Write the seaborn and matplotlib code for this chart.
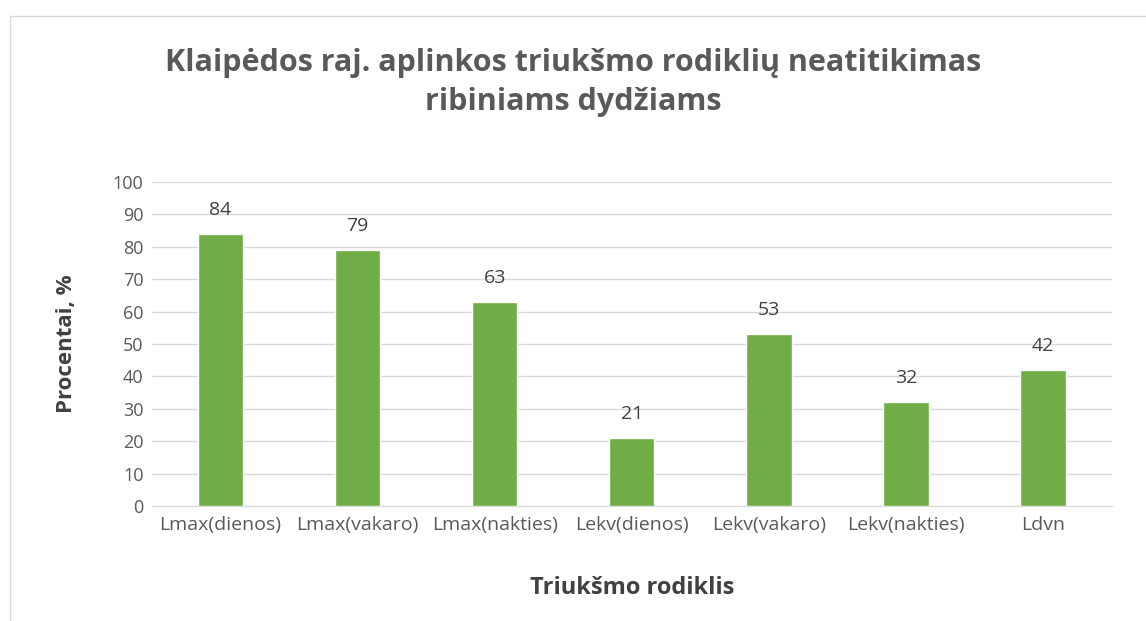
import pandas as pd
import seaborn as sns
import matplotlib.pyplot as plt
from matplotlib.patches import Rectangle

# Noise indicators and share of measurements exceeding limits
categories = ["Lmax(dienos)", "Lmax(vakaro)", "Lmax(nakties)", "Lekv(dienos)",
              "Lekv(vakaro)", "Lekv(nakties)", "Ldvn"]
percent = [84, 79, 63, 21, 53, 32, 42]
y_ticks = [0, 10, 20, 30, 40, 50, 60, 70, 80, 90, 100]

sns.set_style("white")
plt.rcParams['font.family'] = ['Open Sans', 'DejaVu Sans']

df = pd.DataFrame({"rodiklis": categories, "procentai": percent})

fig = plt.figure(figsize=(11.46, 6.21), dpi=100)
ax = fig.add_axes([0.1326, 0.185, 0.8374, 0.522])

sns.barplot(data=df, x="rodiklis", y="procentai", color="#70AD47",
            saturation=1, width=0.33, ax=ax, zorder=3)

ax.set_ylim(0, 100)
ax.set_yticks(y_ticks)
ax.yaxis.grid(True, color="#D9D9D9", linewidth=1, zorder=0)
for side in ["top", "right", "left"]:
    ax.spines[side].set_visible(False)
ax.spines["bottom"].set_color("#D9D9D9")
ax.tick_params(axis="both", length=0, colors="#595959", labelsize=13)
ax.tick_params(axis="x", pad=7, labelsize=14)
ax.tick_params(axis="y", pad=6)

# value labels above each bar
for i, v in enumerate(percent):
    ax.annotate(str(v), (i, v), xytext=(0, 11), textcoords="offset points",
                ha="center", va="bottom", fontsize=14, color="#404040")

ax.set_xlabel("Triukšmo rodiklis", fontsize=17, fontweight="bold",
              color="#404040", labelpad=30)
ax.set_ylabel("Procentai, %", fontsize=16, fontweight="bold",
              color="#404040", labelpad=26)

fig.text(0.50, 0.867, "Klaipėdos raj. aplinkos triukšmo rodiklių neatitikimas\nribiniams dydžiams",
         ha="center", va="center", fontsize=22, fontweight="bold",
         color="#595959", linespacing=1.38)

# chart frame
fig.patches.append(Rectangle((0.009, -0.1), 1.2, 1.075, transform=fig.transFigure,
                             fill=False, edgecolor="#D9D9D9", linewidth=1))

fig.savefig("out.png", dpi=100)
